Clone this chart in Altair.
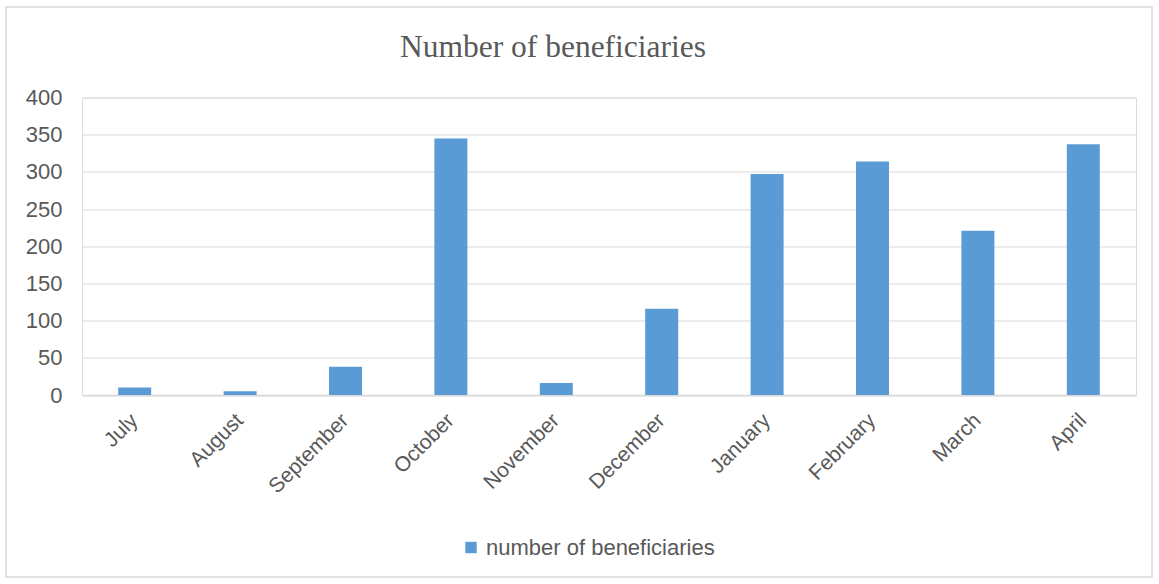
import altair as alt
import pandas as pd

months = ["July", "August", "September", "October", "November", "December",
          "January", "February", "March", "April"]
beneficiaries = [10, 5, 38, 345, 16, 116, 297, 314, 221, 337]
series_name = "number of beneficiaries"
y_ticks = [0, 50, 100, 150, 200, 250, 300, 350, 400]

df = pd.DataFrame({"month": months, "value": beneficiaries, "series": [series_name] * len(months)})

W, H = 1054, 297.5
LABEL_FONT = "Liberation Sans"
GRAY = "#595959"

frame = alt.Chart(pd.DataFrame({"k": [0]})).mark_rect(
    fillOpacity=0, stroke="#D9D9D9", strokeWidth=1.5
).encode(
    x=alt.value(-76), x2=alt.value(1070), y=alt.value(-90.5), y2=alt.value(479.5)
)

bars = alt.Chart(df).mark_bar(size=33).encode(
    x=alt.X("month:N", sort=months,
            scale=alt.Scale(paddingInner=0, paddingOuter=0),
            axis=alt.Axis(title=None, labelAngle=-45, labelAlign="right",
                          labelBaseline="middle", labelPadding=22, ticks=False,
                          domainColor="#D9D9D9", domainWidth=1.5,
                          labelFont=LABEL_FONT, labelFontSize=21, labelColor=GRAY)),
    y=alt.Y("value:Q", scale=alt.Scale(domain=[0, 400], nice=False),
            axis=alt.Axis(title=None, values=y_ticks, ticks=False, domain=False,
                          grid=True, gridColor="#D9D9D9", gridWidth=1.2,
                          labelPadding=20, labelFont=LABEL_FONT, labelFontSize=22,
                          labelColor=GRAY)),
    color=alt.Color("series:N", scale=alt.Scale(range=["#5B9BD5"]),
                    legend=alt.Legend(title=None, orient="none", legendX=378, legendY=439,
                                      symbolType="square", symbolSize=130,
                                      symbolStrokeWidth=0, labelFont=LABEL_FONT,
                                      labelFontSize=22, labelColor=GRAY, labelLimit=0)),
)

chart = alt.layer(frame, bars).properties(
    width=W, height=H,
    title=alt.TitleParams("Number of beneficiaries", font="Liberation Serif",
                          fontSize=31.5, fontWeight="normal", color=GRAY,
                          anchor="middle", dx=-56, offset=-57),
    padding={"left": 82, "top": 97.5, "right": 23, "bottom": 189},
    autosize=alt.AutoSizeParams(type="none"),
).configure_view(stroke=None).configure(background="white")

chart.save("out.html", embed_options={"renderer": "svg", "actions": False})
